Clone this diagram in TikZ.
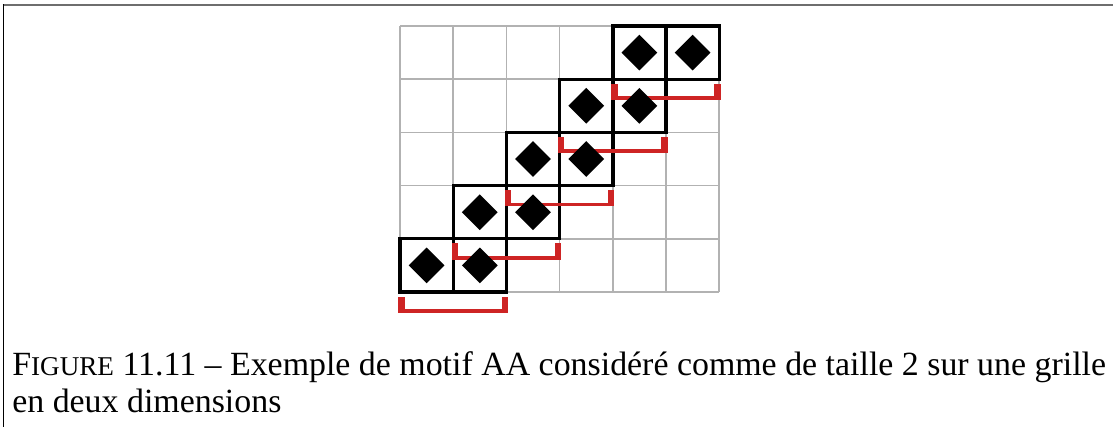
\documentclass[tikz,border=0pt]{standalone}
\usepackage{fontspec}
\setmainfont{Liberation Serif}
\usetikzlibrary{shapes.geometric}
\definecolor{gridgray}{RGB}{178,178,178}
\definecolor{framegray}{RGB}{110,110,110}
\definecolor{bracketred}{RGB}{206,36,36}
\tikzset{
  gridline/.style={
    gridgray,
    line width=1.1pt,
    step=1.33cm
  },
  cellbox/.style={
    draw=black,
    line width=2.4pt
  },
  motif/.style={
    shape = diamond,
    fill = black,
    inner sep = 0,
    minimum width=0.9cm,
    minimum height=0.9cm
  },
  caption/.style={
    inner sep = 0,
    anchor = base west,
    font=\fontsize{24.1}{28}\selectfont
  }
}

\begin{document}
\begin{tikzpicture}[x=1.33cm,y=1.33cm]
            \useasboundingbox (-7.519,-2.538) rectangle (13.402,5.489);
            % frame
            \draw[framegray,line width=1.2pt] (-7.47,5.398) -- (13.402,5.398);
            \draw[black,line width=1.2pt] (-7.454,5.41) -- (-7.454,-2.538);
            % grid
            \draw[gridline] (0,0) grid (6,5);
            \foreach \k in {0,...,4}{
                    \draw[cellbox] (\k,\k) rectangle (\k+2,\k+1);
                    \draw[cellbox] (\k+1,\k) -- (\k+1,\k+1);
                }
            % brackets
            \foreach \k in {0,...,4}{
                    \fill[bracketred] (\k-0.03,\k-0.085) rectangle (\k+0.09,\k-0.39);
                    \fill[bracketred] (\k+1.91,\k-0.085) rectangle (\k+2.03,\k-0.39);
                    \fill[bracketred] (\k-0.03,\k-0.32) rectangle (\k+2.03,\k-0.39);
                }
            % motifs
            \foreach \k in {0,...,4}{
                    \node[motif] (a\k) at (\k+0.5,\k+0.5) {};
                    \node[motif] (b\k) at (\k+1.5,\k+0.5) {};
                }
            \node[caption] (cap1) at (-7.293,-1.560) {F{\fontsize{19.3}{28}\selectfont IGURE} 11.11 -- Exemple de motif AA considéré comme de taille 2 sur une grille};
            \node[caption] (cap2) at (-7.293,-2.274) {en deux dimensions};
        \end{tikzpicture}
\end{document}
